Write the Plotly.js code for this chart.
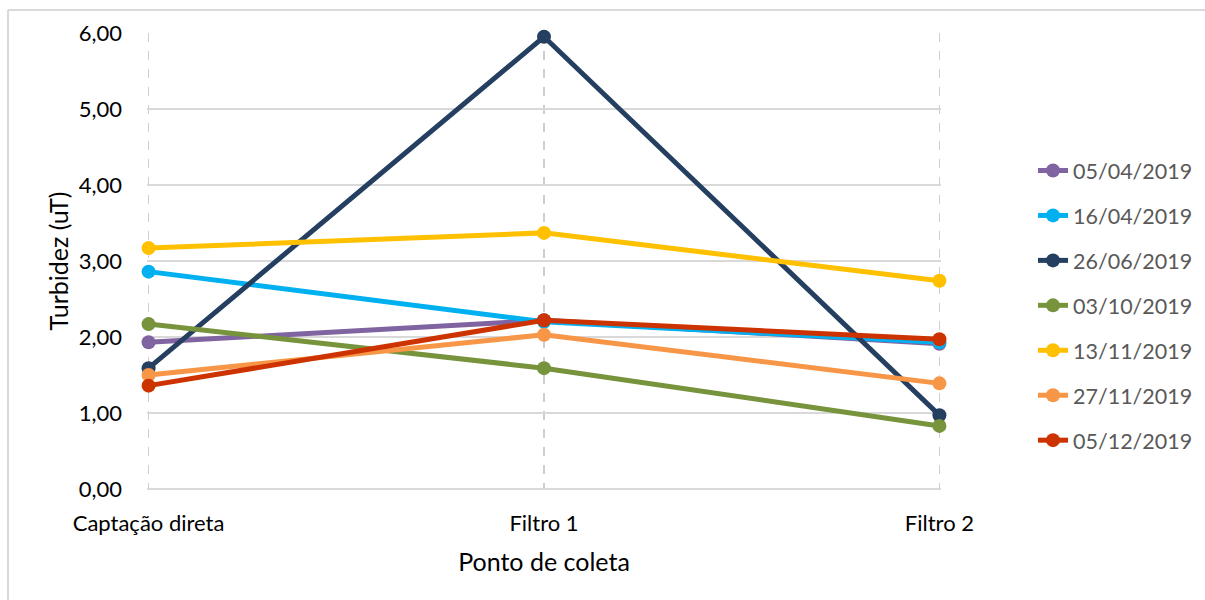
<!DOCTYPE html>
<html>
<head>
<meta charset="utf-8">
<script src="https://cdn.plot.ly/plotly-3.0.1.min.js"></script>
<style>html,body{margin:0;padding:0;background:#fff;}#chart{width:1205px;height:600px;}</style>
</head>
<body>
<div id="chart"></div>
<script>
const categories = ["Captação direta", "Filtro 1", "Filtro 2"];
const seriesNames = ["05/04/2019", "16/04/2019", "26/06/2019", "03/10/2019", "13/11/2019", "27/11/2019", "05/12/2019"];
const s0504 = [1.93, 2.22, 1.91];
const s1604 = [2.86, 2.20, 1.93];
const s2606 = [1.59, 5.95, 0.97];
const s0310 = [2.17, 1.59, 0.83];
const s1311 = [3.17, 3.37, 2.74];
const s2711 = [1.50, 2.03, 1.39];
const s0512 = [1.36, 2.22, 1.97];
const yTickVals = [0, 1, 2, 3, 4, 5, 6];
const yTickText = ["0,00", "1,00", "2,00", "3,00", "4,00", "5,00", "6,00"];

const seriesValues = [s0504, s1604, s2606, s0310, s1311, s2711, s0512];
const colors = ["#8064A2", "#00B0F0", "#243F60", "#77933C", "#FFC000", "#F79646", "#CC3300"];

const traces = seriesValues.map((vals, i) => ({
  type: "scatter",
  mode: "lines+markers",
  x: categories,
  y: vals,
  name: seriesNames[i],
  legendgroup: "g" + i,
  line: {color: colors[i], width: 5},
  marker: {color: colors[i], size: 14},
  cliponaxis: false
}));

const font = "Lato, 'Noto Sans', sans-serif";
const px2x = p => (p - 147) / 794;
const px2y = p => (489 - p) / 456;

const layout = {
  width: 1205, height: 600,
  margin: {l: 147, r: 264, t: 33, b: 111, autoexpand: false},
  paper_bgcolor: "#ffffff", plot_bgcolor: "#ffffff",
  font: {family: font, size: 22, color: "#000"},
  showlegend: true,
  legend: {
    x: px2x(1033), xanchor: "left", y: px2y(150), yanchor: "top",
    font: {family: font, size: 21.5, color: "#595959"},
    tracegroupgap: 14,
    bgcolor: "rgba(0,0,0,0)"
  },
  xaxis: {
    type: "category", range: [-0.004, 2.004],
    showgrid: true, gridcolor: "#cfcfcf", griddash: "dash", gridwidth: 1.2,
    showline: false, zeroline: false, ticks: "",
    ticklabelstandoff: 19,
    tickfont: {family: font, size: 22, color: "#000"},
    title: {text: "Ponto de coleta", font: {family: font, size: 25, color: "#000"}, standoff: 18}
  },
  yaxis: {
    range: [0, 6], tickvals: yTickVals, ticktext: yTickText,
    showgrid: true, gridcolor: "#d9d9d9", gridwidth: 1.5,
    zeroline: true, zerolinecolor: "#d9d9d9", zerolinewidth: 1.5,
    showline: false, ticks: "",
    ticklabelstandoff: 24,
    tickfont: {family: font, size: 22, color: "#000"},
    title: {text: "Turbidez (uT)", font: {family: font, size: 25, color: "#000"}, standoff: 2}
  },
  shapes: [
    {type: "line", xref: "paper", yref: "paper", x0: px2x(8), x1: px2x(1210), y0: px2y(10), y1: px2y(10), line: {color: "#d9d9d9", width: 2}},
    {type: "line", xref: "paper", yref: "paper", x0: px2x(8), x1: px2x(8), y0: px2y(10), y1: px2y(610), line: {color: "#d9d9d9", width: 2}}
  ]
};

Plotly.newPlot("chart", traces, layout, {displayModeBar: false, staticPlot: true});
</script>
</body>
</html>
